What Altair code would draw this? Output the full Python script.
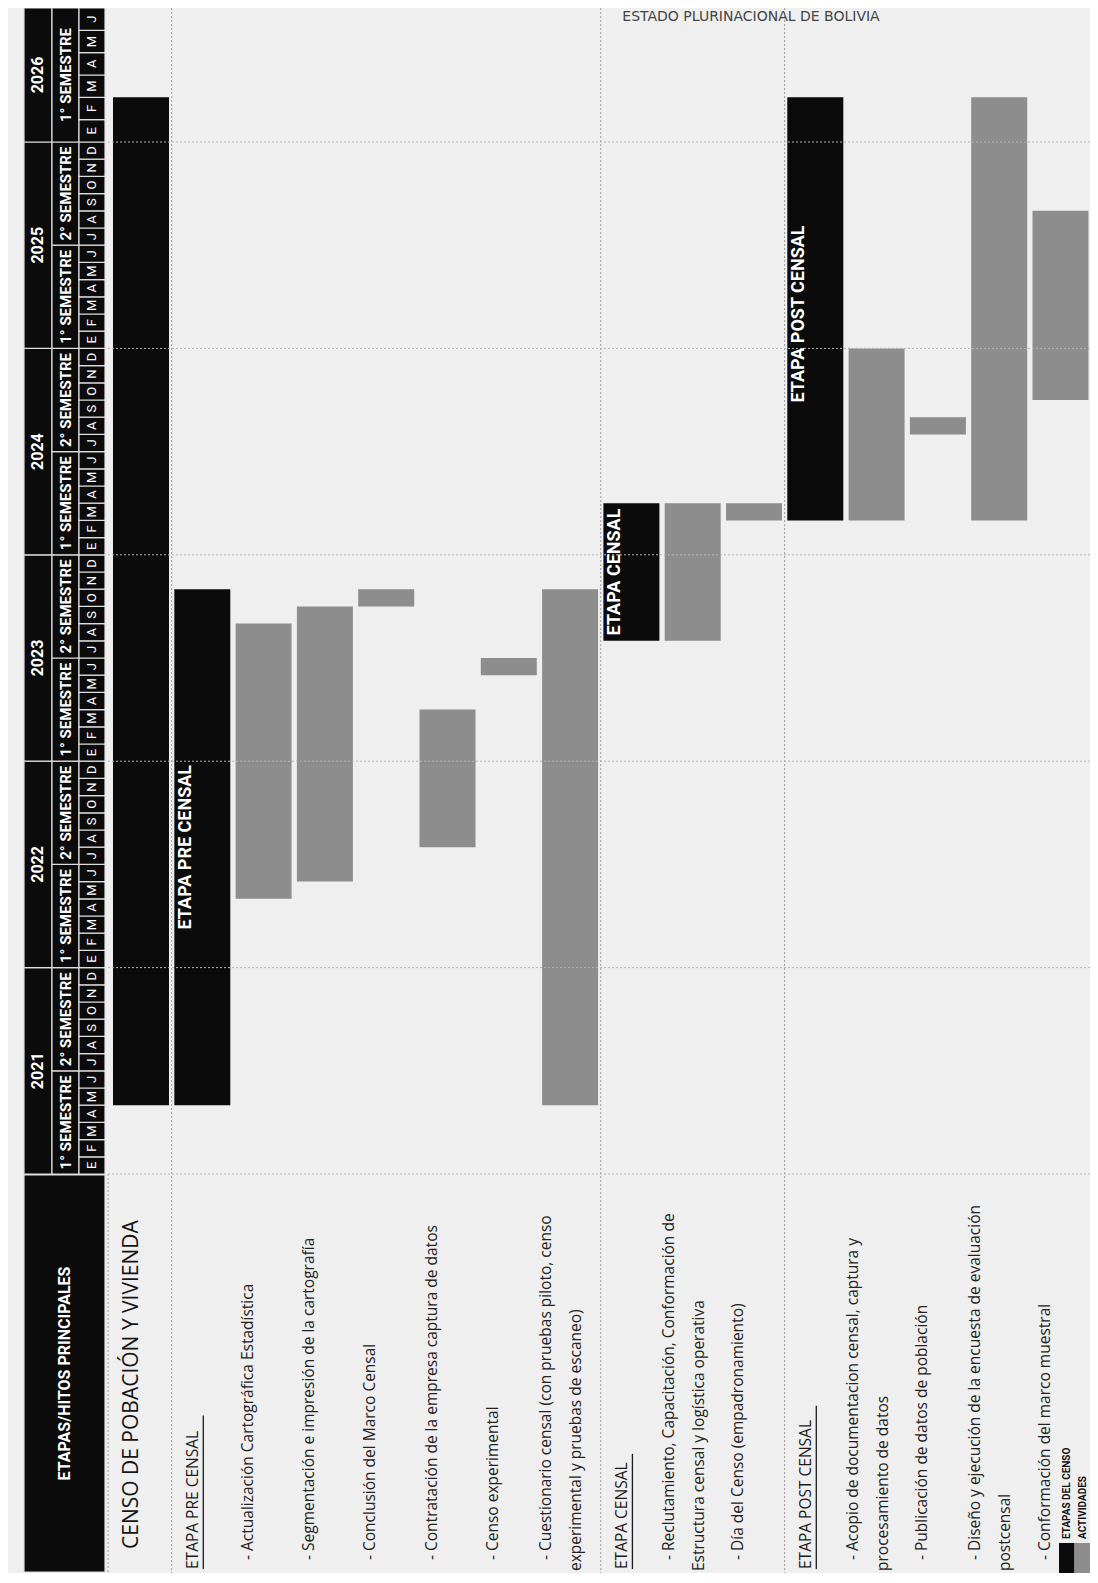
import altair as alt
import pandas as pd

# ---------------- data ----------------
row_kind = ["title", "section", "item", "item", "item", "item", "item", "item",
            "section", "item", "item", "section", "item", "item", "item", "item"]
label_first = [
    "CENSO DE POBACIÓN Y VIVIENDA",
    "ETAPA PRE CENSAL",
    "- Actualización Cartográfica Estadística",
    "- Segmentación e impresión de la cartografía",
    "- Conclusión del Marco Censal",
    "- Contratación de la empresa captura de datos",
    "- Censo experimental",
    "- Cuestionario censal (con pruebas piloto, censo",
    "ETAPA CENSAL",
    "- Reclutamiento, Capacitación, Conformación de",
    "- Día del Censo (empadronamiento)",
    "ETAPA POST CENSAL",
    "- Acopio de documentacion censal, captura y",
    "- Publicación de datos de población",
    "- Diseño y ejecución de la encuesta de evaluación",
    "- Conformación del marco muestral",
]
label_second = ["", "", "", "", "", "", "", "experimental y pruebas de escaneo)", "",
                "Estructura censal y logística operativa", "", "", "procesamiento de datos",
                "", "postcensal", ""]
bar_start = ["2021-05", "2021-05", "2022-05", "2022-06", "2023-10", "2022-08", "2023-06", "2021-05",
             "2023-08", "2023-08", "2024-03", "2024-03", "2024-03", "2024-08", "2024-03", "2024-10"]
bar_end = ["2026-02", "2023-10", "2023-08", "2023-09", "2023-10", "2023-03", "2023-06", "2023-10",
           "2024-03", "2024-03", "2024-03", "2026-02", "2024-12", "2024-08", "2026-02", "2025-08"]
bar_text = ["", "ETAPA PRE CENSAL", "", "", "", "", "", "", "ETAPA CENSAL", "", "",
            "ETAPA POST CENSAL", "", "", "", ""]
years = [2021, 2022, 2023, 2024, 2025, 2026]
last_month = "2026-06"
month_letters = ["E", "F", "M", "A", "M", "J", "J", "A", "S", "O", "N", "D"]
semester_labels = ["1° SEMESTRE", "2° SEMESTRE"]
legend_labels = ["ETAPAS DEL CENSO", "ACTIVIDADES"]
legend_kinds = ["stage", "activity"]
header_title = "ETAPAS/HITOS PRINCIPALES"
page_head = "ESTADO PLURINACIONAL DE BOLIVIA"

# ---------------- layout / style ----------------
BLACK, GRAY, PAPER = "#0b0b0b", "#8d8d8d", "#efefef"
LABEL_FONT = "Open Sans"
HEAD_FONT = "'Liberation Sans Narrow', Roboto, sans-serif"
W, H = 1082, 1565
SLOT, ROW0, BAR_W = 61.3, 105, 56
U0 = -ROW0 / SLOT
U1 = U0 + W / SLOT
PX, Y0 = 17.2, 1166          # px per month, plot y of Jan 2021


def midx(s):
    y, mo = s.split("-")
    return (int(y) - 2021) * 12 + int(mo) - 1


MLAST = midx(last_month) + 1
M_BOT = -(H - Y0) / PX
xs = alt.Scale(domain=[U0, U1], range=[0, W], zero=False, nice=False)
ys = alt.Scale(domain=[M_BOT, 60, MLAST], range=[H, Y0 - 60 * PX, 0], zero=False, nice=False)


def m_at(py):
    return (Y0 - py) / PX


# ---------------- tables ----------------
n = len(row_kind)
bars = pd.DataFrame({
    "row": list(range(n)),
    "kind": ["activity" if k == "item" else "stage" for k in row_kind],
    "start": [midx(s) for s in bar_start],
    "end": [midx(e) + 1 for e in bar_end],
    "text": bar_text,
})
bars["x0"] = bars["row"]
bars["x1"] = bars["row"] + BAR_W / SLOT
bars["mid"] = (bars["start"] + bars["end"]) / 2
bars["xt"] = bars["row"] + 3 / SLOT
stage_txt = bars[bars["text"] != ""]

OFF = {("title", 1, 0): 8, ("section", 1, 0): 12, ("item", 1, 0): 5,
       ("item", 2, 0): -3, ("item", 2, 1): 27}
recs = []
for i, (k, a, b) in enumerate(zip(row_kind, label_first, label_second)):
    lines = [a] + ([b] if b else [])
    for j, t in enumerate(lines):
        recs.append(dict(row=i, kind=k, line=j, text=t, x=i + OFF[(k, len(lines), j)] / SLOT))
labels = pd.DataFrame(recs)

TITLE_Y, SECTION_Y, ITEM_Y, LINE2_Y = H - 24, H - 4, H - 13, H - 2
sec = labels[labels["kind"] == "section"].copy()
sec["ux"] = sec["row"] + (12 + 17) / SLOT
sec["uy"] = m_at(SECTION_Y)
sec["uy2"] = sec["uy"] + sec["text"].str.len() * 9.6 / PX

dividers = pd.DataFrame({"x": [i - (SLOT - BAR_W) / 2 / SLOT for i, k in enumerate(row_kind) if k == "section"]})
grid = pd.DataFrame({"m": [0] + [(y - 2021) * 12 for y in years[1:]]})

months = pd.DataFrame({"m": list(range(MLAST))})
months["letter"] = [month_letters[m % 12] for m in months["m"]]
months["m1"] = months["m"] + 1
months["mc"] = months["m"] + 0.5

sem_rows, year_rows = [], []
for y in years:
    a = (y - 2021) * 12
    year_rows.append(dict(a=a, b=min(a + 12, MLAST), label=str(y)))
    for s, lab in enumerate(semester_labels):
        sa = a + 6 * s
        if sa < MLAST:
            sem_rows.append(dict(a=sa, b=min(sa + 6, MLAST), label=lab))
sems = pd.DataFrame(sem_rows)
yrs = pd.DataFrame(year_rows)
sems["c"] = (sems["a"] + sems["b"]) / 2
yrs["c"] = (yrs["a"] + yrs["b"]) / 2

legend = pd.DataFrame({"label": legend_labels, "kind": legend_kinds, "i": [0, 1]})
legend["x0"] = U0 + (1051 + legend["i"] * 15.5) / SLOT
legend["x1"] = legend["x0"] + 15.5 / SLOT
legend["xt"] = legend["x0"] + 3 / SLOT

YEAR_X, SEM_X, MON_X = (16, 44), (44, 71), (71, 97)
color_kind = alt.Color("kind:N", scale=alt.Scale(domain=["stage", "activity"], range=[BLACK, GRAY]), legend=None)

# ---------------- layers ----------------
div_layer = alt.Chart(dividers).mark_rule(color="#9a9a9a", strokeDash=[2, 2], strokeWidth=1).encode(
    x=alt.X("x:Q", scale=xs, axis=None), y=alt.value(0), y2=alt.value(H))
left_border = alt.Chart(grid.head(1)).mark_rule(color="#9a9a9a", strokeDash=[2, 2], strokeWidth=1).encode(
    x=alt.value(100), y=alt.Y("m:Q", scale=ys, axis=None), y2=alt.value(H))

bar_layer = alt.Chart(bars).mark_rect().encode(
    x=alt.X("x0:Q", scale=xs, axis=None), x2="x1",
    y=alt.Y("start:Q", scale=ys, axis=None), y2="end", color=color_kind)

grid_layer = alt.Chart(grid).mark_rule(color="#b4b4b4", strokeDash=[2, 2], strokeWidth=1).encode(
    x=alt.value(100), x2=alt.value(W), y=alt.Y("m:Q", scale=ys, axis=None))

stage_layer = alt.Chart(stage_txt).mark_text(
    angle=270, align="center", baseline="top", color="white", font=HEAD_FONT,
    fontWeight="bold", fontSize=18).encode(
    x=alt.X("xt:Q", scale=xs, axis=None), y=alt.Y("mid:Q", scale=ys, axis=None), text="text:N")

hdr_rect = dict(color=BLACK, stroke="#dedede", strokeWidth=1.2)
year_rect = alt.Chart(yrs).mark_rect(**hdr_rect).encode(
    x=alt.value(YEAR_X[0]), x2=alt.value(YEAR_X[1]),
    y=alt.Y("a:Q", scale=ys, axis=None), y2="b")
year_txt = alt.Chart(yrs).mark_text(angle=270, align="center", baseline="middle", color="white",
                                    font=HEAD_FONT, fontWeight="bold", fontSize=16).encode(
    x=alt.value(sum(YEAR_X) / 2), y=alt.Y("c:Q", scale=ys, axis=None), text="label:N")
sem_rect = alt.Chart(sems).mark_rect(**hdr_rect).encode(
    x=alt.value(SEM_X[0]), x2=alt.value(SEM_X[1]),
    y=alt.Y("a:Q", scale=ys, axis=None), y2="b")
sem_txt = alt.Chart(sems).mark_text(angle=270, align="center", baseline="middle", color="white",
                                    font=HEAD_FONT, fontWeight="bold", fontSize=15).encode(
    x=alt.value(sum(SEM_X) / 2), y=alt.Y("c:Q", scale=ys, axis=None), text="label:N")
mon_rect = alt.Chart(months).mark_rect(**hdr_rect).encode(
    x=alt.value(MON_X[0]), x2=alt.value(MON_X[1]),
    y=alt.Y("m:Q", scale=ys, axis=None), y2="m1")
mon_txt = alt.Chart(months).mark_text(angle=270, align="center", baseline="middle", color="white",
                                      font=HEAD_FONT, fontSize=13).encode(
    x=alt.value(sum(MON_X) / 2), y=alt.Y("mc:Q", scale=ys, axis=None), text="letter:N")

head_df = pd.DataFrame({"t": [header_title]})
head_rect = alt.Chart(head_df).mark_rect(**hdr_rect).encode(
    x=alt.value(YEAR_X[0]), x2=alt.value(MON_X[1]), y=alt.value(Y0 + 1), y2=alt.value(H - 1))
head_txt = alt.Chart(head_df).mark_text(angle=270, align="center", baseline="middle", color="white",
                                        font=HEAD_FONT, fontWeight="bold", fontSize=16).encode(
    x=alt.value((YEAR_X[0] + MON_X[1]) / 2), y=alt.value((Y0 + H) / 2), text="t:N")


def label_layer(df, ypx, size, color):
    return alt.Chart(df).mark_text(angle=270, align="left", baseline="top", font=LABEL_FONT,
                                   fontSize=size, color=color).encode(
        x=alt.X("x:Q", scale=xs, axis=None), y=alt.value(ypx), text="text:N")


lab_title = label_layer(labels[labels["kind"] == "title"], TITLE_Y, 21, "#151515")
lab_sec = label_layer(labels[labels["kind"] == "section"], SECTION_Y, 15.5, "#1a1a1a")
lab_item0 = label_layer(labels[(labels["kind"] == "item") & (labels["line"] == 0)], ITEM_Y, 15.5, "#222222")
lab_item1 = label_layer(labels[(labels["kind"] == "item") & (labels["line"] == 1)], LINE2_Y, 15.5, "#222222")
underline = alt.Chart(sec).mark_rule(color="#1a1a1a", strokeWidth=1.3).encode(
    x=alt.X("ux:Q", scale=xs, axis=None), y=alt.Y("uy:Q", scale=ys, axis=None), y2="uy2")

leg_rect = alt.Chart(legend).mark_rect().encode(
    x=alt.X("x0:Q", scale=xs, axis=None), x2="x1", y=alt.value(H - 30), y2=alt.value(H), color=color_kind)
leg_txt = alt.Chart(legend).mark_text(angle=270, align="left", baseline="top", font=HEAD_FONT,
                                      fontWeight="bold", fontSize=10, color="#111111").encode(
    x=alt.X("xt:Q", scale=xs, axis=None), y=alt.value(H - 34), text="label:N")

top_txt = alt.Chart(pd.DataFrame({"t": [page_head]})).mark_text(
    align="center", baseline="alphabetic", font="DejaVu Sans", fontSize=14, color="#444444").encode(
    x=alt.value(743), y=alt.value(13), text="t:N")

chart = alt.layer(
    div_layer, left_border, bar_layer, grid_layer, stage_layer,
    year_rect, year_txt, sem_rect, sem_txt, mon_rect, mon_txt, head_rect, head_txt,
    lab_title, lab_sec, lab_item0, lab_item1, underline, leg_rect, leg_txt, top_txt,
).properties(width=W, height=H, background=PAPER, padding=0, autosize="none"
).configure_view(stroke=None)

chart.save("out.html", embed_options={"renderer": "svg", "actions": False})
